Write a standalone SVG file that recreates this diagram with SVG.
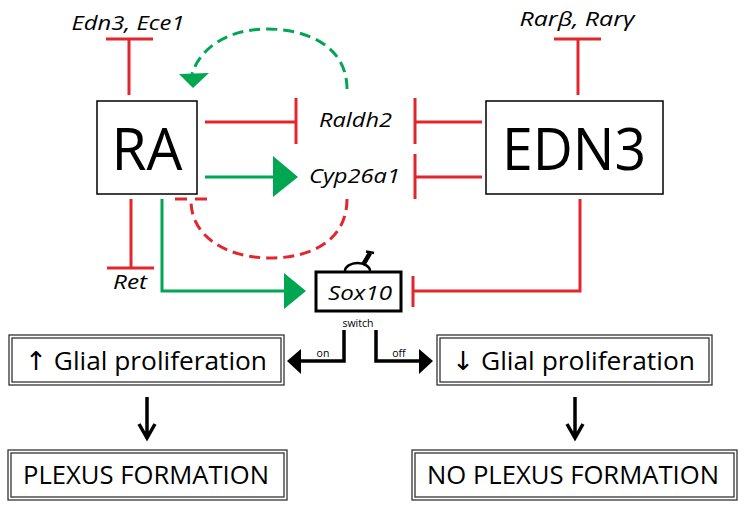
<svg xmlns="http://www.w3.org/2000/svg" width="745" height="509" viewBox="0 0 745 509">
<style>
.bg{fill:#fff}
.box{fill:#fff;stroke:#000;stroke-width:1.5}
.dbl{fill:none;stroke:#333;stroke-width:1.3}
.big{font-family:"Open Sans","Noto Sans","Liberation Sans",sans-serif;font-size:58px;fill:#000;text-anchor:middle}
.it{font-family:"Open Sans","Noto Sans","Liberation Sans",sans-serif;font-style:italic;font-size:20px;fill:#000}
.lab{font-family:"Open Sans","Noto Sans","DejaVu Sans",sans-serif;font-size:26px;fill:#000}
.sm{font-family:"Open Sans","Noto Sans","Liberation Sans",sans-serif;font-size:10.5px;fill:#000;text-anchor:middle}
.red{fill:none;stroke:#e3262d;stroke-width:3}
.grn{fill:none;stroke:#00a651;stroke-width:3}
.dash{stroke-dasharray:11 6}
.blk{fill:none;stroke:#000;stroke-width:3.5}
</style>
<rect class="bg" x="0" y="0" width="745" height="509"/>

<g id="connectors">
  <path class="red" d="M129,95 V39 M106,39 H153"/>
  <path class="red" d="M578,95 V39 M554,39 H601"/>
  <path class="red" d="M205,122 H296 M296,98 V144"/>
  <path class="grn" d="M205,177 H276"/>
  <polygon fill="#00a651" points="273,156 298,177 273,197"/>
  <path class="red" d="M482,122 H415 M415,98 V144"/>
  <path class="red" d="M482,177 H415 M415,154 V199"/>
  <path class="red" d="M131,199 V268 M107,268 H154"/>
  <path class="grn" d="M162,199 V291 H287"/>
  <polygon fill="#00a651" points="284,273 306,291 284,309"/>
  <path class="red" d="M580,199 V291 H413 M413,276 V307"/>
  <path class="grn dash" d="M347,89 C347,48 310,29 267,29 C228,29 200,48 192,74"/>
  <polygon fill="#00a651" points="179,74 209,73 193,88"/>
  <path class="red dash" d="M347,199 C347,240 312,258 270,258 C226,258 191,236 191,201"/>
  <path class="red" d="M175,199 H187 M195,199 H207"/>
  <path class="blk" d="M344,330 V361 H299"/>
  <polygon fill="#000" points="301,349 287,361 301,374"/>
  <path class="blk" d="M376,330 V361 H421"/>
  <polygon fill="#000" points="419,349 433,361 419,374"/>
  <text class="sm" x="323" y="357">on</text>
  <text class="sm" x="399" y="357">off</text>
  <path class="blk" d="M147,397 V437 M139,424 L147,438 L155,424"/>
  <path class="blk" d="M575,397 V437 M567,424 L575,438 L583,424"/>
</g>

<g id="node-edn3-ece1">
  <text class="it" x="128" y="30" text-anchor="middle" textLength="113" lengthAdjust="spacingAndGlyphs">Edn3, Ece1</text>
</g>
<g id="node-rar">
  <text class="it" x="577" y="26" text-anchor="middle" textLength="115" lengthAdjust="spacingAndGlyphs">Rarβ, Rarγ</text>
</g>
<g id="node-ra">
  <rect class="box" x="97" y="101" width="100" height="93"/>
  <text class="big" x="147" y="170" textLength="71" lengthAdjust="spacingAndGlyphs">RA</text>
</g>
<g id="node-edn3">
  <rect class="box" x="486" y="101" width="177" height="93"/>
  <text class="big" x="574" y="170" textLength="144" lengthAdjust="spacingAndGlyphs">EDN3</text>
</g>
<g id="node-raldh2">
  <text class="it" x="319" y="127" textLength="73" lengthAdjust="spacingAndGlyphs">Raldh2</text>
</g>
<g id="node-cyp26a1">
  <text class="it" x="309" y="183" textLength="91" lengthAdjust="spacingAndGlyphs">Cyp26a1</text>
</g>
<g id="node-ret">
  <text class="it" x="113" y="289" textLength="34" lengthAdjust="spacingAndGlyphs">Ret</text>
</g>
<g id="node-sox10">
  <path d="M345,271 A12.5,8 0 0 1 370,271" fill="#fff" stroke="#000" stroke-width="2.5"/>
  <path d="M363,265 L370,253" stroke="#000" stroke-width="4.5" fill="none"/>
  <path d="M366,251.5 L374,253" stroke="#000" stroke-width="2.5" fill="none"/>
  <rect x="316" y="272" width="85" height="39" fill="#fff" stroke="#000" stroke-width="3"/>
  <text class="it" x="328" y="300" font-size="23" textLength="64" lengthAdjust="spacingAndGlyphs">Sox10</text>
  <text class="sm" x="358" y="327">switch</text>
</g>
<g id="node-glial-up">
  <rect class="dbl" x="9" y="335" width="275" height="50"/>
  <rect class="dbl" x="12" y="338" width="269" height="44"/>
  <text class="lab" x="25" y="370" textLength="242" lengthAdjust="spacingAndGlyphs">↑ Glial proliferation</text>
</g>
<g id="node-glial-down">
  <rect class="dbl" x="437" y="335" width="275" height="50"/>
  <rect class="dbl" x="440" y="338" width="269" height="44"/>
  <text class="lab" x="452" y="370" textLength="243" lengthAdjust="spacingAndGlyphs">↓ Glial proliferation</text>
</g>
<g id="node-plexus">
  <rect class="dbl" x="8" y="450" width="279" height="50"/>
  <rect class="dbl" x="11" y="453" width="273" height="44"/>
  <text class="lab" x="23" y="484" font-size="25" textLength="246" lengthAdjust="spacingAndGlyphs">PLEXUS FORMATION</text>
</g>
<g id="node-no-plexus">
  <rect class="dbl" x="412" y="450" width="325" height="50"/>
  <rect class="dbl" x="415" y="453" width="319" height="44"/>
  <text class="lab" x="427" y="484" font-size="25" textLength="292" lengthAdjust="spacingAndGlyphs">NO PLEXUS FORMATION</text>
</g>
</svg>
